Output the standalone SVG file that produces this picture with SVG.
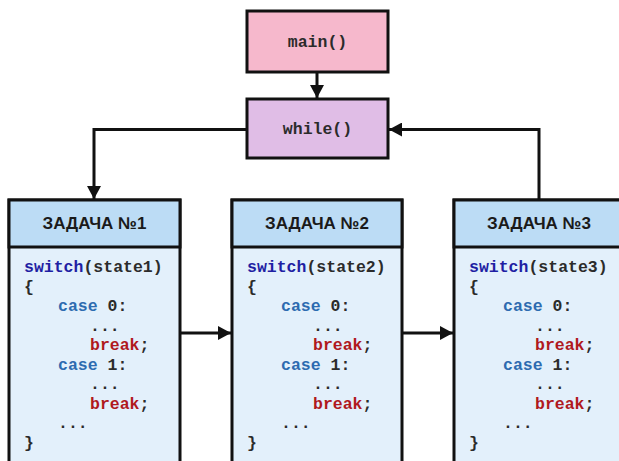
<svg xmlns="http://www.w3.org/2000/svg" width="619" height="461" viewBox="0 0 619 461">
<style>
.box{stroke:#111;stroke-width:3}
.code{font-family:"Liberation Mono","Courier New",monospace;font-weight:bold;font-size:16.5px;fill:#2b2b2b}
.hdr{font-family:"Liberation Sans",Arial,sans-serif;font-weight:bold;font-size:17px;fill:#1a1a1a;text-anchor:middle}
.kw{fill:#1f1fa3}
.cs{fill:#2d6bb0}
.br{fill:#b0191d}
.conn{stroke:#111;stroke-width:3;fill:none}
</style>
<defs>
<marker id="ah" markerWidth="13" markerHeight="14" refX="13" refY="7" orient="auto" markerUnits="userSpaceOnUse" viewBox="0 0 13 14">
<path d="M0,0 L13,7 L0,14 z" fill="#111"/>
</marker>
</defs>
<rect width="619" height="461" fill="#fff"/>
<g id="connectors">
<line class="conn" x1="317" y1="72" x2="317" y2="98" marker-end="url(#ah)"/>
<polyline class="conn" points="246,129.5 94,129.5 94,199" marker-end="url(#ah)"/>
<polyline class="conn" points="539,200 539,129.5 389,129.5" marker-end="url(#ah)"/>
<line class="conn" x1="180" y1="333" x2="231" y2="333" marker-end="url(#ah)"/>
<line class="conn" x1="402" y1="333" x2="453" y2="333" marker-end="url(#ah)"/>
</g>
<g id="main">
<rect class="box" x="247" y="11" width="141" height="61" fill="#f6b8cc"/>
<text class="code" x="317.5" y="47" text-anchor="middle" fill="#222">main()</text>
</g>
<g id="while">
<rect class="box" x="247" y="99" width="141" height="59" fill="#e0bde6"/>
<text class="code" x="317.5" y="134" text-anchor="middle" fill="#222">while()</text>
</g>
<g id="task1">
<rect class="box" x="9" y="200" width="171" height="270" fill="#e3f0fb"/>
<rect class="box" x="9" y="200" width="171" height="47" fill="#bcdcf5"/>
<text class="hdr" x="94.5" y="229">ЗАДАЧА №1</text>
<g transform="translate(9,0)">
<text class="code" y="272"><tspan x="15" class="kw">switch</tspan><tspan>(state1)</tspan></text>
<text class="code" x="15" y="291.5">{</text>
<text class="code" y="311"><tspan x="49" class="cs">case</tspan><tspan> 0:</tspan></text>
<text class="code" x="81" y="330.5">...</text>
<text class="code" y="350"><tspan x="81" class="br">break</tspan><tspan>;</tspan></text>
<text class="code" y="369.5"><tspan x="49" class="cs">case</tspan><tspan> 1:</tspan></text>
<text class="code" x="81" y="389">...</text>
<text class="code" y="408.5"><tspan x="81" class="br">break</tspan><tspan>;</tspan></text>
<text class="code" x="49" y="428">...</text>
<text class="code" x="15" y="447.5">}</text>
</g>
</g>
<g id="task2">
<rect class="box" x="232" y="200" width="170" height="270" fill="#e3f0fb"/>
<rect class="box" x="232" y="200" width="170" height="47" fill="#bcdcf5"/>
<text class="hdr" x="317" y="229">ЗАДАЧА №2</text>
<g transform="translate(232,0)">
<text class="code" y="272"><tspan x="15" class="kw">switch</tspan><tspan>(state2)</tspan></text>
<text class="code" x="15" y="291.5">{</text>
<text class="code" y="311"><tspan x="49" class="cs">case</tspan><tspan> 0:</tspan></text>
<text class="code" x="81" y="330.5">...</text>
<text class="code" y="350"><tspan x="81" class="br">break</tspan><tspan>;</tspan></text>
<text class="code" y="369.5"><tspan x="49" class="cs">case</tspan><tspan> 1:</tspan></text>
<text class="code" x="81" y="389">...</text>
<text class="code" y="408.5"><tspan x="81" class="br">break</tspan><tspan>;</tspan></text>
<text class="code" x="49" y="428">...</text>
<text class="code" x="15" y="447.5">}</text>
</g>
</g>
<g id="task3">
<rect class="box" x="454" y="200" width="172" height="270" fill="#e3f0fb"/>
<rect class="box" x="454" y="200" width="172" height="47" fill="#bcdcf5"/>
<text class="hdr" x="539" y="229">ЗАДАЧА №3</text>
<g transform="translate(454,0)">
<text class="code" y="272"><tspan x="15" class="kw">switch</tspan><tspan>(state3)</tspan></text>
<text class="code" x="15" y="291.5">{</text>
<text class="code" y="311"><tspan x="49" class="cs">case</tspan><tspan> 0:</tspan></text>
<text class="code" x="81" y="330.5">...</text>
<text class="code" y="350"><tspan x="81" class="br">break</tspan><tspan>;</tspan></text>
<text class="code" y="369.5"><tspan x="49" class="cs">case</tspan><tspan> 1:</tspan></text>
<text class="code" x="81" y="389">...</text>
<text class="code" y="408.5"><tspan x="81" class="br">break</tspan><tspan>;</tspan></text>
<text class="code" x="49" y="428">...</text>
<text class="code" x="15" y="447.5">}</text>
</g>
</g>
</svg>
